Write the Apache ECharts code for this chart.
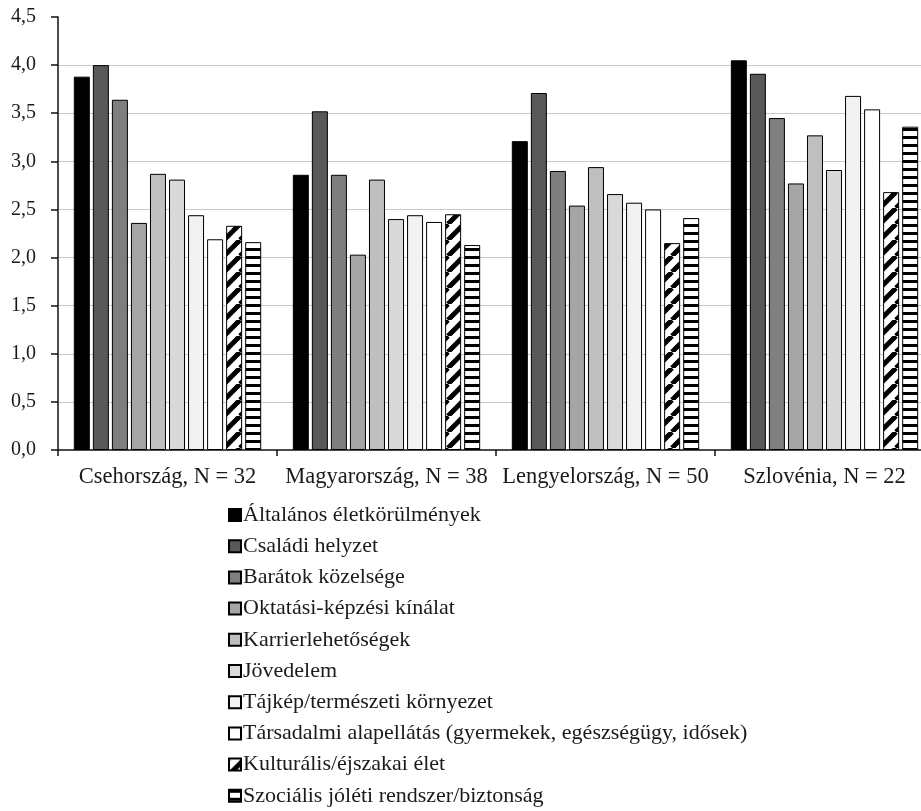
<!DOCTYPE html>
<html>
<head>
<meta charset="utf-8">
<script src="https://cdn.jsdelivr.net/npm/echarts@6/dist/echarts.min.js"></script>
<style>
  html, body { margin: 0; padding: 0; background: #fff; overflow: hidden; }
  #chart { width: 940px; height: 811px; }
</style>
</head>
<body>
<div id="chart"></div>
<script>
// Countries (with sample sizes)
const categories = ['Csehország, N = 32', 'Magyarország, N = 38', 'Lengyelország, N = 50', 'Szlovénia, N = 22'];

// Factor names
const seriesNames = [
  'Általános életkörülmények',
  'Családi helyzet',
  'Barátok közelsége',
  'Oktatási-képzési kínálat',
  'Karrierlehetőségek',
  'Jövedelem',
  'Tájkép/természeti környezet',
  'Társadalmi alapellátás (gyermekek, egészségügy, idősek)',
  'Kulturális/éjszakai élet',
  'Szociális jóléti rendszer/biztonság'
];

// Mean scores per factor, in the order of the countries above
const altalanos   = [3.88, 2.86, 3.21, 4.05];
const csaladi     = [4.00, 3.52, 3.71, 3.91];
const baratok     = [3.64, 2.86, 2.90, 3.45];
const oktatasi    = [2.36, 2.03, 2.54, 2.77];
const karrier     = [2.87, 2.81, 2.94, 3.27];
const jovedelem   = [2.81, 2.40, 2.66, 2.91];
const tajkep      = [2.44, 2.44, 2.57, 3.68];
const alapellatas = [2.19, 2.37, 2.50, 3.54];
const kulturalis  = [2.33, 2.45, 2.15, 2.68];
const szocialis   = [2.16, 2.13, 2.41, 3.36];

const seriesData = [altalanos, csaladi, baratok, oktatasi, karrier, jovedelem, tajkep, alapellatas, kulturalis, szocialis];

// Y axis ticks
const yTicks = [0, 0.5, 1, 1.5, 2, 2.5, 3, 3.5, 4, 4.5];

// Hatch fills
function diagonalPattern() {
  const s = 16;
  const c = document.createElement('canvas');
  c.width = s; c.height = s;
  const g = c.getContext('2d');
  g.fillStyle = '#fff';
  g.fillRect(0, 0, s, s);
  g.strokeStyle = '#000';
  g.lineWidth = 5;
  for (const k of [-s, 0, s]) {
    g.beginPath();
    g.moveTo(k, s);
    g.lineTo(k + s, 0);
    g.stroke();
  }
  return { image: c, repeat: 'repeat' };
}
function horizontalPattern() {
  const c = document.createElement('canvas');
  c.width = 8; c.height = 8;
  const g = c.getContext('2d');
  g.fillStyle = '#fff';
  g.fillRect(0, 0, 8, 8);
  g.fillStyle = '#000';
  g.fillRect(0, 0, 8, 3);
  return { image: c, repeat: 'repeat' };
}

const fills = ['#000000', '#595959', '#7f7f7f', '#a5a5a5', '#bfbfbf', '#d9d9d9', '#f2f2f2', '#ffffff',
  diagonalPattern(), horizontalPattern()];

const FONT = '"Liberation Serif", "DejaVu Serif", serif';

const chart = echarts.init(document.getElementById('chart'), null, { renderer: 'canvas' });

chart.setOption({
  animation: false,
  backgroundColor: '#fff',
  grid: { left: 58, right: 6, top: 17, bottom: 361, containLabel: false },
  legend: {
    orient: 'vertical',
    left: 228,
    top: 504,
    height: 330,
    padding: 0,
    itemWidth: 12,
    itemHeight: 12,
    itemGap: 9.2,
    icon: 'rect',
    textStyle: { fontFamily: FONT, fontSize: 22, color: '#1a1a1a', lineHeight: 21, padding: [0, 0, 0, -3] },
    data: seriesNames
  },
  xAxis: {
    type: 'category',
    data: categories,
    boundaryGap: true,
    axisLine: { lineStyle: { color: '#111', width: 1.5 } },
    axisTick: { show: true, length: 6, alignWithLabel: false, lineStyle: { color: '#111', width: 1.5 } },
    axisLabel: { interval: 0, hideOverlap: false, fontFamily: FONT, fontSize: 22.5, color: '#1a1a1a', margin: 16 }
  },
  yAxis: {
    type: 'value',
    min: yTicks[0],
    max: yTicks[yTicks.length - 1],
    interval: 0.5,
    axisLine: { show: true, lineStyle: { color: '#111', width: 1.5 } },
    axisTick: { show: true, length: 7, lineStyle: { color: '#111', width: 1.5 } },
    axisLabel: {
      fontFamily: FONT, fontSize: 20, color: '#1a1a1a', margin: 22,
      formatter: v => v.toFixed(1).replace('.', ',')
    },
    splitLine: { show: true, showMinLine: false, showMaxLine: false, lineStyle: { color: '#c8c8c8', width: 1 } }
  },
  series: seriesNames.map((name, i) => ({
    name,
    type: 'bar',
    data: seriesData[i],
    barWidth: 16,
    barGap: '19%',
    itemStyle: { color: fills[i], borderColor: '#000', borderWidth: 1 }
  }))
});
</script>
</body>
</html>
